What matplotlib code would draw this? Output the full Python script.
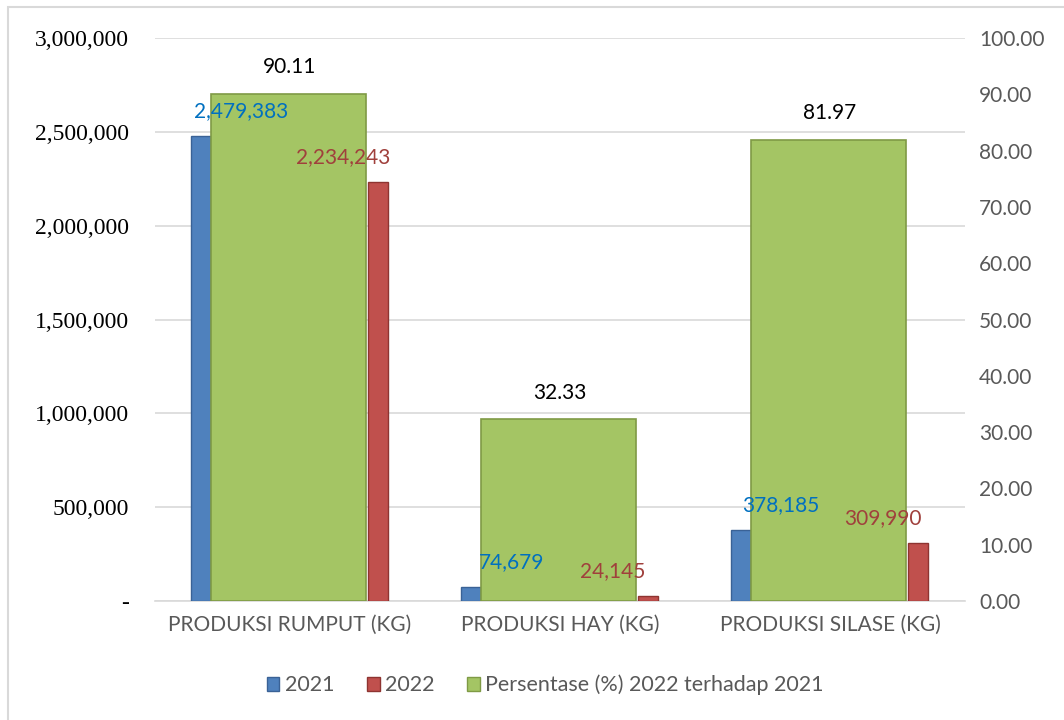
import matplotlib.pyplot as plt
import numpy as np
from matplotlib.patches import Rectangle, Patch
from matplotlib.ticker import FuncFormatter

categories = ['PRODUKSI RUMPUT (KG)', 'PRODUKSI HAY (KG)', 'PRODUKSI SILASE (KG)']
prod_2021 = [2479383, 74679, 378185]
prod_2022 = [2234243, 24145, 309990]
persen = [90.11, 32.33, 81.97]

BLUE = '#4F81BD'
RED = '#C0504D'
GREEN = '#A4C564'
GRAY_TXT = '#595959'

fig = plt.figure(figsize=(10.64, 7.2), dpi=100)
ax = fig.add_axes([155 / 1064, 119 / 720, 810 / 1064, 563 / 720])
ax2 = ax.twinx()

x = np.arange(len(categories))
bw = 0.074
off = 0.33

# primary bars
ax.bar(x - off, prod_2021, bw, color=BLUE, edgecolor='#3A6296', linewidth=1, zorder=3)
ax.bar(x + off - 0.005, prod_2022, bw, color=RED, edgecolor='#8E3431', linewidth=1, zorder=3)

# secondary bars (percentage)
ax2.bar(x - 0.005, persen, 0.575, color=GREEN, edgecolor='#7F9A45', linewidth=1.2, zorder=3)

ax.set_xlim(-0.5, 2.5)
ax.set_ylim(0, 3000000)
ax2.set_ylim(0, 100)
ax.set_yticks(np.arange(0, 3000001, 500000))
ax2.set_yticks(np.arange(0, 101, 10))
ax.yaxis.set_major_formatter(FuncFormatter(lambda v, p: '-' if v == 0 else f'{v:,.0f}'))
ax2.yaxis.set_major_formatter(FuncFormatter(lambda v, p: f'{v:.2f}'))

ax.grid(axis='y', color='#D9D9D9', linewidth=1.2, zorder=0)
ax.set_axisbelow(True)
for a in (ax, ax2):
    for s in a.spines.values():
        s.set_visible(False)
ax.spines['bottom'].set_visible(True)
ax.spines['bottom'].set_color('#D9D9D9')
ax.spines['bottom'].set_linewidth(1.2)

ax.tick_params(axis='y', length=0, pad=19, labelsize=17)
for t in ax.get_yticklabels():
    t.set_fontfamily('Liberation Serif')
ax2.tick_params(axis='y', length=0, pad=10, labelsize=15, labelcolor=GRAY_TXT)
for t in ax2.get_yticklabels():
    t.set_fontfamily('Lato')

ax.set_xticks(x)
ax.set_xticklabels(categories, fontsize=15, color=GRAY_TXT, family='Lato')
ax.tick_params(axis='x', length=0, pad=10)

# value labels
for i in range(len(categories)):
    ax2.annotate(f'{prod_2021[i]:,}', xy=(x[i] - off, prod_2021[i]), xycoords=ax.transData,
                 xytext=(29, 18), textcoords='offset points', ha='center', va='center',
                 fontsize=15, color='#0070C0', family='Lato', zorder=5)
    ax2.annotate(f'{prod_2022[i]:,}', xy=(x[i] + off, prod_2022[i]), xycoords=ax.transData,
                 xytext=(-26, 18), textcoords='offset points', ha='center', va='center',
                 fontsize=15, color='#A0403C', family='Lato', zorder=5)
    ax2.annotate(f'{persen[i]:.2f}', xy=(x[i], persen[i]),
                 xytext=(0, 19), textcoords='offset points', ha='center', va='center',
                 fontsize=15, color='black', family='Lato', zorder=5)

handles = [Patch(facecolor=BLUE, edgecolor='#3A6296', label='2021'),
           Patch(facecolor=RED, edgecolor='#8E3431', label='2022'),
           Patch(facecolor=GREEN, edgecolor='#7F9A45', label='Persentase (%) 2022 terhadap 2021')]
leg = fig.legend(handles=handles, loc='center', bbox_to_anchor=(545 / 1064, 1 - 685 / 720),
                 ncol=3, frameon=False, handlelength=0.6, handleheight=0.6,
                 handletextpad=0.25, columnspacing=1.5,
                 prop={'family': 'Lato', 'size': 15.5})
for t in leg.get_texts():
    t.set_color(GRAY_TXT)

# chart border (only top/left visible in the cropped image)
fig.patches.append(Rectangle((8 / 1064, -0.1), 1.2, 1.1 - 7 / 720,
                             transform=fig.transFigure, fill=False,
                             edgecolor='#D9D9D9', linewidth=1.5))

fig.savefig('out.png', dpi=100)
